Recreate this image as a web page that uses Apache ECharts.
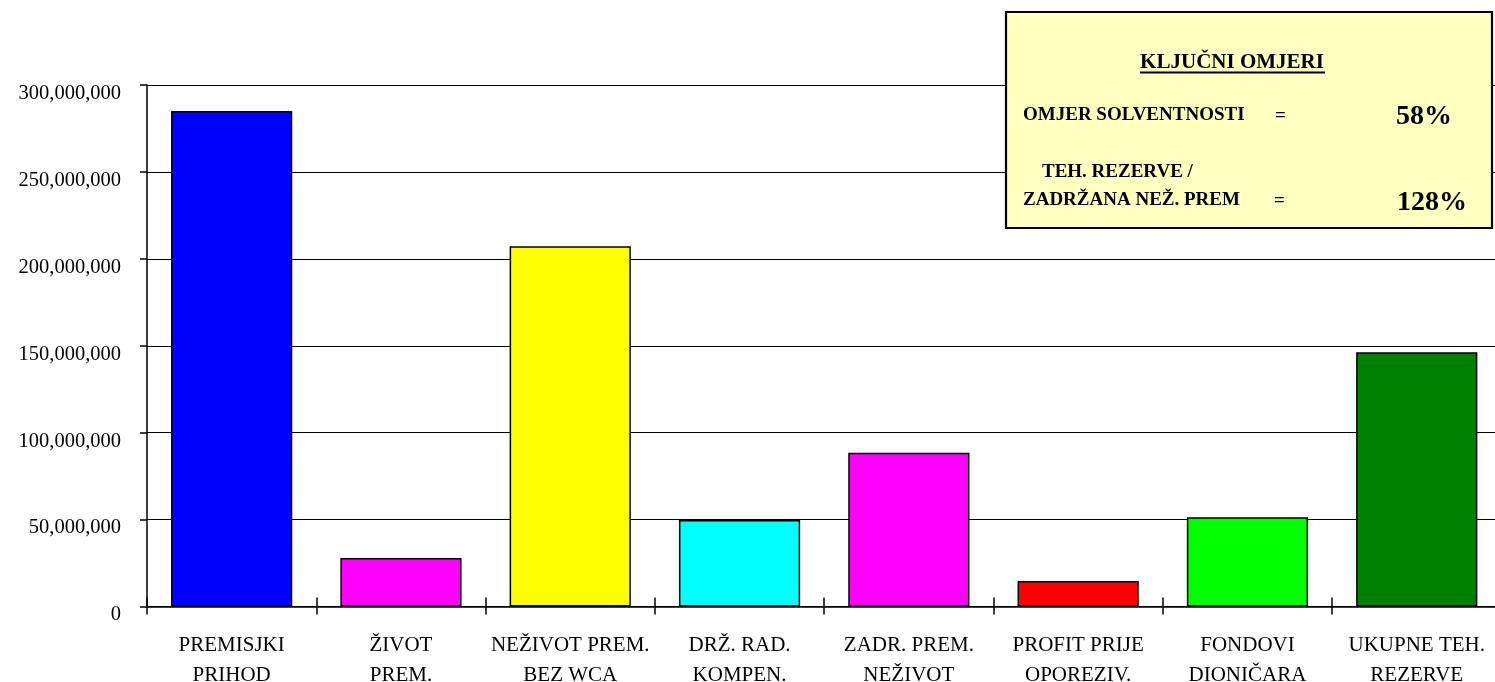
<!DOCTYPE html>
<html>
<head>
<meta charset="utf-8">
<script src="https://cdn.jsdelivr.net/npm/echarts@6/dist/echarts.min.js"></script>
<style>html,body{margin:0;padding:0;background:#fff}#c{width:1495px;height:682px}</style>
</head>
<body>
<div id="c"></div>
<script>
const categories = ['PREMISJKI\nPRIHOD', 'ŽIVOT\nPREM.', 'NEŽIVOT PREM.\nBEZ WCA', 'DRŽ. RAD.\nKOMPEN.', 'ZADR. PREM.\nNEŽIVOT', 'PROFIT PRIJE\nOPOREZIV.', 'FONDOVI\nDIONIČARA', 'UKUPNE TEH.\nREZERVE'];
const values = [285000000, 27900000, 207200000, 49700000, 88400000, 14700000, 51400000, 146300000];
const barColors = ['#0000FF', '#FF00FF', '#FFFF00', '#00FFFF', '#FF00FF', '#FF0000', '#00FF00', '#008000'];
const ratioTitle = 'KLJUČNI OMJERI';
const ratioLabels = ['OMJER SOLVENTNOSTI', 'TEH. REZERVE /', 'ZADRŽANA NEŽ. PREM'];
const ratioValues = ['58%', '128%'];

const serif = '"Liberation Serif", "Times New Roman", serif';
const chart = echarts.init(document.getElementById('c'));
chart.setOption({
  animation: false,
  backgroundColor: '#fff',
  grid: { left: 147, width: 1354.4, top: 85, bottom: 75.5, containLabel: false, outerBoundsMode: 'none' },
  xAxis: [{
    type: 'category', data: categories, position: 'bottom',
    axisLine: { lineStyle: { color: '#000', width: 1.5 } },
    axisTick: { show: true, length: 8, lineStyle: { color: '#000', width: 1.5 } },
    axisLabel: { color: '#000', fontFamily: serif, fontSize: 21, lineHeight: 30, margin: 24, interval: 0 },
    splitLine: { show: false }
  }, {
    type: 'category', data: categories, position: 'bottom',
    axisLine: { show: false },
    axisTick: { show: true, inside: true, length: 9, lineStyle: { color: '#000', width: 1.5 } },
    axisLabel: { show: false },
    splitLine: { show: false }
  }],
  yAxis: {
    type: 'value', min: 0, max: 300000000, interval: 50000000,
    axisLine: { show: true, lineStyle: { color: '#000', width: 1.5 } },
    axisTick: { show: true, length: 7, lineStyle: { color: '#000', width: 1.5 } },
    axisLabel: { color: '#000', fontFamily: serif, fontSize: 20.5, margin: 26, verticalAlign: 'top', lineHeight: 17,
      formatter: v => v.toLocaleString('en-US') },
    splitLine: { show: true, lineStyle: { color: '#000', width: 1.2 } }
  },
  series: [{
    type: 'bar', xAxisIndex: 0,
    data: values.map((v, i) => ({ value: v, itemStyle: { color: barColors[i] } })),
    barCategoryGap: '28.4%',
    itemStyle: { borderColor: '#000', borderWidth: 1.5 }
  }],
  graphic: [
    { type: 'rect', shape: { x: 1006, y: 12, width: 486, height: 216 },
      style: { fill: '#FFFFC0', stroke: '#000', lineWidth: 2.2 }, z: 100 },
    { type: 'text', x: 1232, y: 63, z: 101,
      style: { text: ratioTitle, fill: '#000', font: 'bold 21px ' + serif, textAlign: 'center', textVerticalAlign: 'middle' } },
    { type: 'line', z: 101, shape: { x1: 1140, y1: 72.5, x2: 1325, y2: 72.5 }, style: { stroke: '#000', lineWidth: 2 } },
    { type: 'text', x: 1023, y: 115, z: 101,
      style: { text: ratioLabels[0], fill: '#000', font: 'bold 19px ' + serif, textAlign: 'left', textVerticalAlign: 'middle' } },
    { type: 'text', x: 1275, y: 116, z: 101,
      style: { text: '=', fill: '#000', font: 'bold 19px ' + serif, textAlign: 'left', textVerticalAlign: 'middle' } },
    { type: 'text', x: 1396, y: 117, z: 101,
      style: { text: ratioValues[0], fill: '#000', font: 'bold 28px ' + serif, textAlign: 'left', textVerticalAlign: 'middle' } },
    { type: 'text', x: 1042, y: 172, z: 101,
      style: { text: ratioLabels[1], fill: '#000', font: 'bold 19px ' + serif, textAlign: 'left', textVerticalAlign: 'middle' } },
    { type: 'text', x: 1023, y: 200, z: 101,
      style: { text: ratioLabels[2], fill: '#000', font: 'bold 19px ' + serif, textAlign: 'left', textVerticalAlign: 'middle' } },
    { type: 'text', x: 1274, y: 201, z: 101,
      style: { text: '=', fill: '#000', font: 'bold 19px ' + serif, textAlign: 'left', textVerticalAlign: 'middle' } },
    { type: 'text', x: 1397, y: 203, z: 101,
      style: { text: ratioValues[1], fill: '#000', font: 'bold 28px ' + serif, textAlign: 'left', textVerticalAlign: 'middle' } }
  ]
});
</script>
</body>
</html>
